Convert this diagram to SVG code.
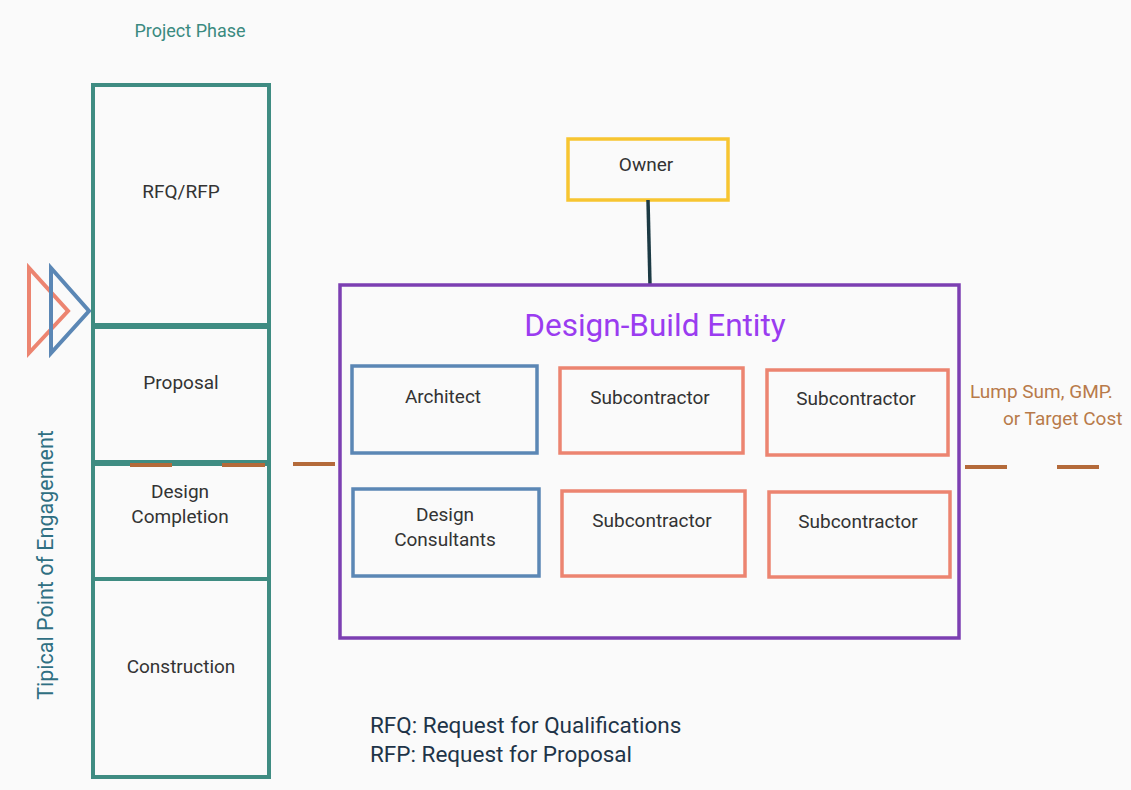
<svg xmlns="http://www.w3.org/2000/svg" width="1131" height="790" viewBox="0 0 1131 790">
<style>
text{font-family:Roboto,"Liberation Sans",sans-serif;}
.lbl{font-size:19px;fill:#333;text-anchor:middle;}
.phase{fill:none;stroke:#3f8c82;stroke-width:4;}
.div{stroke:#3f8c82;stroke-width:6;}
.blue{fill:none;stroke:#5b87b5;stroke-width:3.5;}
.orng{fill:none;stroke:#ec8470;stroke-width:3.5;}
.dash{stroke:#b46a3a;stroke-width:4;}
</style>
<rect width="1131" height="790" fill="#fafafa"/>
<text x="190" y="37" font-size="18" fill="#3a8a80" text-anchor="middle">Project Phase</text>
<text transform="translate(53,565) rotate(-90)" font-size="21.5" fill="#2f6f82" text-anchor="middle">Tipical Point of Engagement</text>
<g id="engagement-marker">
<polygon points="29,268 29,353 68,311" fill="none" stroke="#ec8470" stroke-width="4"/>
<polygon points="51,268 51,353 89,311" fill="none" stroke="#5b87b5" stroke-width="4"/>
</g>
<g id="phases">
<rect class="phase" x="93" y="85" width="176" height="692"/>
<line class="div" x1="93" y1="326" x2="269" y2="326"/>
<line class="div" x1="93" y1="463" x2="269" y2="463"/>
<line class="div" x1="93" y1="579" x2="269" y2="579" style="stroke-width:4"/>
</g>
<g id="rfq"><text class="lbl" x="181" y="198">RFQ/RFP</text></g>
<g id="proposal"><text class="lbl" x="181" y="389">Proposal</text></g>
<g id="design-completion"><text class="lbl" x="180" y="498">Design</text><text class="lbl" x="180" y="523">Completion</text></g>
<g id="construction"><text class="lbl" x="181" y="673">Construction</text></g>
<g id="owner">
<rect x="568" y="139" width="160" height="61" fill="none" stroke="#f7c531" stroke-width="3.5"/>
<text class="lbl" x="646" y="171">Owner</text>
</g>
<g id="connectors">
<line x1="648" y1="200" x2="650" y2="285" stroke="#1c3a44" stroke-width="3.5"/>
<line class="dash" x1="130" y1="465" x2="172" y2="465"/>
<line class="dash" x1="222" y1="465" x2="265" y2="465"/>
<line class="dash" x1="293" y1="464" x2="335" y2="464"/>
<line class="dash" x1="965" y1="467" x2="1007" y2="467"/>
<line class="dash" x1="1057" y1="467" x2="1099" y2="467"/>
</g>
<g id="design-build-entity">
<rect x="340" y="285" width="619" height="353" fill="none" stroke="#7c3fb2" stroke-width="3.5"/>
<text x="655" y="336" font-size="31.5" fill="#9a3cf0" text-anchor="middle">Design-Build Entity</text>
</g>
<g id="architect"><rect class="blue" x="352" y="366" width="185" height="87"/><text class="lbl" x="443" y="403">Architect</text></g>
<g id="sub1"><rect class="orng" x="560" y="368" width="183" height="85"/><text class="lbl" x="650" y="404">Subcontractor</text></g>
<g id="sub2"><rect class="orng" x="767" y="370" width="181" height="85"/><text class="lbl" x="856" y="405">Subcontractor</text></g>
<g id="design-consultants"><rect class="blue" x="353" y="489" width="186" height="87"/><text class="lbl" x="445" y="521">Design</text><text class="lbl" x="445" y="546">Consultants</text></g>
<g id="sub3"><rect class="orng" x="562" y="491" width="183" height="85"/><text class="lbl" x="652" y="527">Subcontractor</text></g>
<g id="sub4"><rect class="orng" x="769" y="492" width="181" height="85"/><text class="lbl" x="858" y="528">Subcontractor</text></g>
<g id="price-label">
<text x="970" y="398" font-size="19" fill="#b87a4a">Lump Sum, GMP.</text>
<text x="1003" y="425" font-size="19" fill="#b87a4a">or Target Cost</text>
</g>
<g id="legend">
<text x="370" y="733" font-size="22.5" fill="#1e3448">RFQ: Request for Qualifications</text>
<text x="370" y="762" font-size="22.5" fill="#1e3448">RFP: Request for Proposal</text>
</g>
</svg>
